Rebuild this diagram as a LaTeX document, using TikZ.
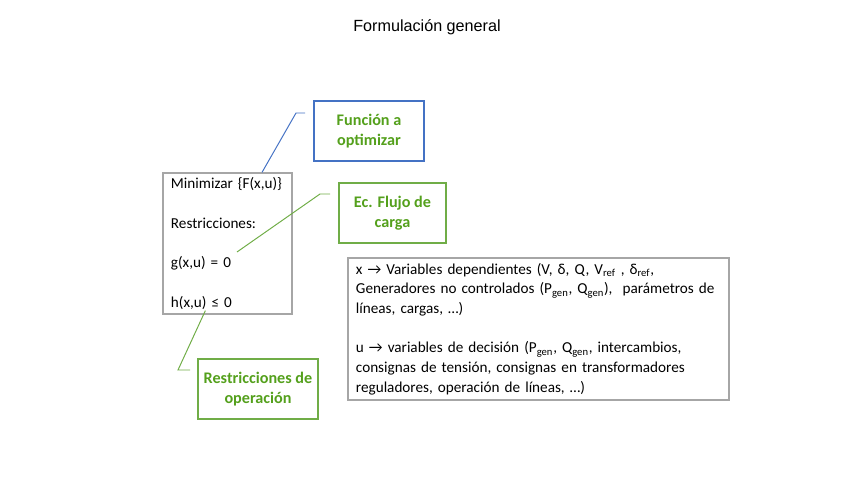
\documentclass[tikz,border=0pt]{standalone}
\usepackage{fontspec}
\setmainfont{Carlito}
\newfontfamily\titlefont{Liberation Sans}
\usetikzlibrary{calc,positioning}
\definecolor{grisbox}{RGB}{166,166,166}
\definecolor{azulbox}{RGB}{68,114,196}
\definecolor{verdebox}{RGB}{112,173,71}
\definecolor{verdetxt}{RGB}{84,160,28}

\begin{document}
\begin{tikzpicture}[x=0.025cm, y=-0.025cm, font=\fontsize{10.8}{14}\selectfont,
  caja/.style={draw=grisbox, line width=0.9pt, align=left, inner xsep=0.2cm},
  etiq/.style={draw=#1, line width=0.9pt, align=center, minimum height=1.5cm,
    text=verdetxt, font=\fontsize{11.5}{14.5}\selectfont\bfseries},
  guia/.style={draw=#1, line width=0.7pt}]
\useasboundingbox (0,0) rectangle (848,477);
\node[font=\titlefont\fontsize{11.5}{14}\selectfont] (tit) at (427,27) {Formulación general};
\node[caja, minimum width=3.225cm, minimum height=3.525cm, text width=2.825cm] (main) at (227.5,243.5)
  {Minimizar \{F(x,u)\}\\[14pt]Restricciones:\\[14pt]g(x,u) = 0\\[14pt]h(x,u) ≤ 0};
\node[etiq=azulbox, minimum width=2.75cm] (fun) at (369,131) {Función a\\optimizar};
\node[etiq=verdebox, minimum width=2.675cm] (flujo) at (392.5,213) {Ec. Flujo de\\carga};
\node[etiq=verdebox, minimum width=3cm] (restr) at (258,389) {Restricciones de\\operación};
\node[caja, minimum height=3.55cm, text width=9.125cm] (vars) at (538.5,329)
  {x → Variables dependientes (V, δ, Q, V\textsubscript{ref} , δ\textsubscript{ref},\\
   Generadores no controlados (P\textsubscript{gen}, Q\textsubscript{gen}),\ \ parámetros de\\
   líneas, cargas, …)\\[14pt]
   u → variables de decisión (P\textsubscript{gen}, Q\textsubscript{gen}, intercambios,\\
   consignas de tensión, consignas en transformadores\\
   reguladores, operación de líneas, …)};
% lineas de llamada
\coordinate (funA) at (296,113);
\coordinate (funB) at (305,113);
\coordinate (flujoA) at (320,194);
\coordinate (flujoB) at (330,194);
\coordinate (gA) at (237,252);
\coordinate (restrA) at (178,370);
\coordinate (restrB) at (190,370);
\draw[guia=azulbox] ($(main.north west)!0.765!(main.north east)$) -- (funA) -- (funB);
\draw[guia=verdebox] (gA) -- (flujoA) -- (flujoB);
\draw[guia=verdebox] ($(main.south west)!0.33!(main.south east)+(0,-4)$) -- (restrA) -- (restrB);
\end{tikzpicture}
\end{document}
